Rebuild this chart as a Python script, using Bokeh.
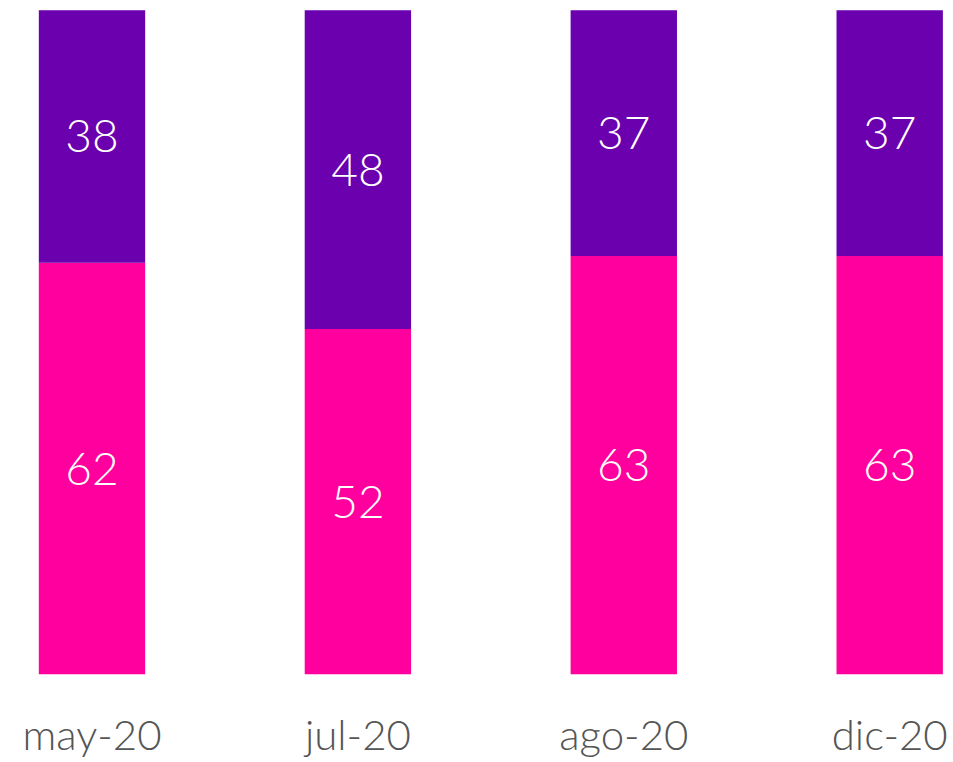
from bokeh.plotting import figure
from bokeh.models import ColumnDataSource, FixedTicker, Range1d
from bokeh.core.properties import value
from bokeh.embed import file_html
from bokeh.resources import INLINE

months = ["may-20", "jul-20", "ago-20", "dic-20"]
pink_vals = [62, 52, 63, 63]
purple_vals = [38, 48, 37, 37]

PINK = "#ff009e"
PURPLE = "#6a00ae"
FONT = "Lato Light, Lato"

xs = list(range(len(months)))
src = ColumnDataSource(dict(
    x=xs,
    pink=pink_vals,
    purple=purple_vals,
    top=[a + b for a, b in zip(pink_vals, purple_vals)],
    pink_mid=[a / 2 for a in pink_vals],
    purple_mid=[a + b / 2 for a, b in zip(pink_vals, purple_vals)],
    pink_lbl=[str(v) for v in pink_vals],
    purple_lbl=[str(v) for v in purple_vals],
))

p = figure(frame_width=942, frame_height=666,
           x_range=Range1d(-0.314, -0.314 + 942 / 265.9), y_range=Range1d(0, 100.26),
           output_backend="svg", toolbar_location=None,
           min_border_left=8, min_border_right=0, min_border_top=8,
           min_border_bottom=80)

p.vbar(x="x", bottom=0, top="pink", width=0.40, source=src,
       fill_color=PINK, line_color=None)
p.vbar(x="x", bottom="pink", top="top", width=0.40, source=src,
       fill_color=PURPLE, line_color=None)

p.text(x="x", y="pink_mid", text="pink_lbl", source=src,
       text_color="white", text_font=value(FONT), text_font_size="46px",
       text_align="center", text_baseline="middle")
p.text(x="x", y="purple_mid", text="purple_lbl", source=src,
       text_color="white", text_font=value(FONT), text_font_size="46px",
       text_align="center", text_baseline="middle")

p.yaxis.visible = False
p.xgrid.visible = False
p.ygrid.visible = False
p.outline_line_color = None

ax = p.xaxis[0]
ax.ticker = FixedTicker(ticks=xs)
ax.major_label_overrides = {i: m for i, m in enumerate(months)}
ax.axis_line_color = None
ax.major_tick_line_color = None
ax.minor_tick_line_color = None
ax.major_label_text_font = FONT
ax.major_label_text_font_size = "42px"
ax.major_label_text_color = "#555555"
ax.major_label_standoff = 28

open("out.html", "w").write(file_html(p, INLINE))
